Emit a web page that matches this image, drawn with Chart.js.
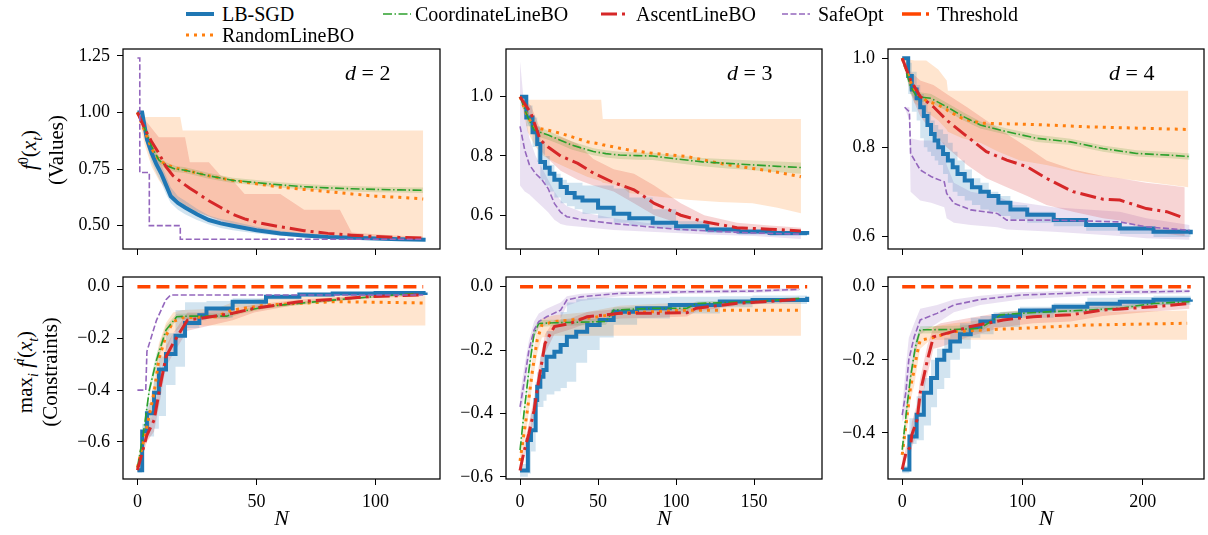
<!DOCTYPE html>
<html>
<head>
<meta charset="utf-8">
<script src="https://cdn.jsdelivr.net/npm/chart.js@4.4.1/dist/chart.umd.min.js"></script>
<style>
  body { margin: 0; background: #fff; width: 1208px; height: 535px; position: relative; overflow: hidden; font-family: 'Liberation Serif', 'DejaVu Serif', serif; color: #000; }
  canvas { position: absolute; }
  .ylab { position: absolute; white-space: nowrap; font-size: 21px; transform: translate(-50%, -50%) rotate(-90deg); }
  .dlab { position: absolute; white-space: nowrap; font-size: 22px; transform: translate(0, -50%); }
  .leg { position: absolute; white-space: nowrap; font-size: 20px; transform: translate(0, -50%); }
</style>
</head>
<body>
<script>
// ---------- d = 2, objective ----------
const v2SgdN = [0,2,4,6,8,10,12,14,17,20,25,30,35,40,50,60,70,80,90,100,110,121];
const v2Sgd = [1.0,1.0,0.88,0.82,0.77,0.73,0.68,0.63,0.60,0.58,0.55,0.525,0.51,0.50,0.48,0.465,0.457,0.45,0.447,0.443,0.44,0.438];
const v2SgdLo = [1.0,0.98,0.85,0.78,0.73,0.69,0.64,0.60,0.57,0.55,0.525,0.505,0.49,0.48,0.465,0.455,0.448,0.443,0.44,0.437,0.435,0.433];
const v2SgdHi = [1.0,1.0,0.92,0.86,0.81,0.77,0.72,0.67,0.63,0.61,0.575,0.545,0.53,0.52,0.495,0.478,0.467,0.458,0.454,0.45,0.446,0.444];
const v2RandN = [0,3,6,9,12,16,18,19,20,30,40,50,60,70,80,90,100,110,120];
const v2Rand = [1.0,0.92,0.84,0.79,0.77,0.755,0.75,0.748,0.745,0.72,0.70,0.685,0.67,0.66,0.65,0.64,0.63,0.625,0.618];
const v2RandLo = [1.0,0.86,0.76,0.70,0.66,0.62,0.60,0.59,0.58,0.54,0.51,0.49,0.475,0.465,0.455,0.45,0.447,0.445,0.443];
const v2RandHi = [1.0,0.98,0.98,0.98,0.98,0.98,0.98,0.92,0.92,0.92,0.92,0.92,0.92,0.92,0.92,0.92,0.92,0.92,0.92];
const v2CoordN = [0,3,6,9,12,16,20,30,40,50,60,70,80,90,100,110,120];
const v2Coord = [1.0,0.93,0.85,0.79,0.765,0.75,0.745,0.72,0.70,0.69,0.68,0.672,0.667,0.663,0.66,0.658,0.656];
const v2CoordLo = [1.0,0.91,0.83,0.775,0.75,0.737,0.732,0.707,0.688,0.678,0.668,0.66,0.655,0.651,0.648,0.646,0.644];
const v2CoordHi = [1.0,0.95,0.87,0.805,0.78,0.763,0.758,0.733,0.712,0.702,0.692,0.684,0.679,0.675,0.672,0.67,0.668];
const v2AscN = [0,3,6,9,12,15,20,22,25,30,35,40,45,50,60,70,80,85,90,100,110,120];
const v2Asc = [1.0,0.93,0.87,0.82,0.76,0.72,0.68,0.665,0.645,0.61,0.58,0.55,0.53,0.515,0.495,0.478,0.466,0.462,0.458,0.452,0.448,0.445];
const v2AscLo = [1.0,0.90,0.80,0.74,0.68,0.63,0.59,0.58,0.56,0.54,0.52,0.50,0.49,0.48,0.47,0.46,0.452,0.45,0.447,0.443,0.44,0.438];
const v2AscHi = [1.0,0.97,0.93,0.89,0.89,0.89,0.89,0.78,0.78,0.78,0.72,0.70,0.64,0.64,0.64,0.57,0.57,0.57,0.47,0.462,0.456,0.452];
const v2SafeN = [0,1,5,18,120];
const v2Safe = [1.24,0.735,0.50,0.44,0.44];

// ---------- d = 3, objective ----------
const v3SgdN = [0,4,8,11,13,16,19,22,26,30,35,40,50,60,70,85,100,120,140,160,184];
const v3Sgd = [1.0,0.93,0.88,0.84,0.78,0.76,0.74,0.72,0.695,0.675,0.66,0.65,0.625,0.605,0.59,0.575,0.563,0.552,0.545,0.54,0.534];
const v3SgdLo = [1.0,0.90,0.83,0.78,0.72,0.70,0.68,0.66,0.64,0.63,0.62,0.605,0.59,0.575,0.565,0.555,0.548,0.54,0.535,0.53,0.528];
const v3SgdHi = [1.0,0.97,0.93,0.90,0.85,0.80,0.77,0.74,0.72,0.71,0.71,0.70,0.70,0.69,0.66,0.62,0.58,0.56,0.55,0.545,0.54];
const v3RandN = [0,5,10,15,22,30,43,52,53,64,70,85,107,128,149,165,180];
const v3Rand = [1.0,0.93,0.895,0.89,0.882,0.87,0.848,0.84,0.838,0.826,0.82,0.809,0.798,0.775,0.758,0.745,0.73];
const v3RandLo = [1.0,0.88,0.83,0.80,0.78,0.76,0.73,0.715,0.71,0.70,0.675,0.665,0.652,0.645,0.64,0.625,0.607];
const v3RandHi = [1.0,0.99,0.99,0.99,0.99,0.99,0.99,0.99,0.925,0.925,0.925,0.925,0.925,0.925,0.925,0.925,0.925];
const v3CoordN = [0,5,9,13,18,25,33,40,47,55,64,75,85,100,117,133,149,165,180];
const v3Coord = [1.0,0.93,0.888,0.88,0.871,0.855,0.837,0.826,0.815,0.808,0.803,0.801,0.80,0.79,0.78,0.775,0.77,0.765,0.761];
const v3CoordLo = [1.0,0.91,0.87,0.863,0.855,0.84,0.822,0.812,0.802,0.795,0.79,0.787,0.786,0.776,0.765,0.758,0.752,0.745,0.74];
const v3CoordHi = [1.0,0.95,0.905,0.895,0.885,0.868,0.85,0.838,0.826,0.819,0.814,0.812,0.811,0.802,0.793,0.789,0.785,0.781,0.778];
const v3AscN = [0,7,13,18,26,37,47,60,73,86,103,118,139,160,180];
const v3Asc = [1.0,0.944,0.854,0.83,0.80,0.775,0.742,0.71,0.686,0.64,0.60,0.578,0.558,0.553,0.547];
const v3AscLo = [1.0,0.92,0.82,0.79,0.75,0.72,0.70,0.68,0.64,0.60,0.57,0.555,0.545,0.54,0.535];
const v3AscHi = [1.0,0.97,0.89,0.865,0.865,0.84,0.79,0.755,0.74,0.70,0.64,0.60,0.575,0.565,0.558];
const v3SafeN = [0,3,6,10,14,18,22,26,30,40,50,60,80,100,120,150,180];
const v3Safe = [0.90,0.82,0.77,0.74,0.72,0.69,0.64,0.61,0.595,0.585,0.578,0.572,0.562,0.553,0.547,0.54,0.536];
const v3SafeLo = [0.70,0.68,0.67,0.65,0.63,0.61,0.585,0.57,0.565,0.56,0.555,0.55,0.545,0.54,0.535,0.53,0.52];
const v3SafeHi = [1.12,0.95,0.86,0.80,0.76,0.72,0.68,0.65,0.63,0.61,0.60,0.59,0.575,0.565,0.557,0.55,0.545];

// ---------- d = 4, objective ----------
const v4SgdN = [0,5,8,12,15,18,21,24,27,30,34,38,42,46,52,58,65,72,80,90,104,126,153,181,209,240];
const v4Sgd = [1.0,0.96,0.93,0.91,0.89,0.87,0.85,0.83,0.815,0.80,0.785,0.77,0.755,0.74,0.725,0.71,0.70,0.69,0.675,0.66,0.648,0.636,0.625,0.617,0.61,0.604];
const v4SgdLo = [1.0,0.92,0.88,0.86,0.82,0.80,0.79,0.78,0.77,0.76,0.74,0.72,0.70,0.69,0.68,0.67,0.66,0.655,0.645,0.638,0.63,0.622,0.612,0.605,0.598,0.592];
const v4SgdHi = [1.0,0.99,0.97,0.94,0.92,0.90,0.88,0.86,0.85,0.84,0.83,0.81,0.79,0.77,0.75,0.73,0.72,0.70,0.69,0.67,0.655,0.64,0.63,0.622,0.615,0.61];
const v4RandN = [0,10,20,30,37,38,50,65,80,98,120,153,180,209,238];
const v4Rand = [1.0,0.925,0.905,0.895,0.885,0.882,0.865,0.854,0.853,0.852,0.85,0.846,0.844,0.842,0.84];
const v4RandLo = [1.0,0.90,0.88,0.86,0.84,0.835,0.82,0.81,0.79,0.77,0.76,0.74,0.73,0.72,0.71];
const v4RandHi = [1.0,0.995,0.995,0.975,0.95,0.927,0.927,0.927,0.927,0.927,0.927,0.927,0.927,0.927,0.927];
const v4CoordN = [0,7,12,24,37,51,65,87,112,140,167,195,223,239];
const v4Coord = [1.0,0.936,0.914,0.91,0.891,0.869,0.85,0.835,0.82,0.812,0.797,0.786,0.782,0.779];
const v4CoordLo = [1.0,0.92,0.903,0.90,0.882,0.86,0.842,0.828,0.812,0.805,0.79,0.779,0.775,0.772];
const v4CoordHi = [1.0,0.95,0.925,0.92,0.90,0.878,0.858,0.842,0.828,0.819,0.804,0.793,0.789,0.786];
const v4AscN = [0,7,15,26,37,54,70,87,104,120,142,167,181,203,220,235];
const v4Asc = [1.0,0.951,0.914,0.891,0.861,0.824,0.79,0.771,0.756,0.73,0.70,0.683,0.681,0.662,0.655,0.64];
const v4AscLo = [1.0,0.92,0.87,0.83,0.80,0.76,0.73,0.71,0.69,0.67,0.655,0.64,0.635,0.615,0.605,0.60];
const v4AscHi = [1.0,0.97,0.95,0.94,0.92,0.89,0.86,0.83,0.80,0.77,0.75,0.735,0.73,0.72,0.715,0.71];
const v4SafeN = [2,6,7,15,24,35,37,43,57,79,87,126,181,203,239];
const v4Safe = [0.89,0.88,0.786,0.749,0.734,0.722,0.696,0.674,0.659,0.651,0.636,0.636,0.632,0.621,0.613];
const v4SafeLo = [0.89,0.86,0.70,0.68,0.675,0.665,0.64,0.63,0.625,0.62,0.615,0.61,0.60,0.595,0.592];
const v4SafeHi = [0.89,0.89,0.82,0.815,0.815,0.81,0.76,0.72,0.70,0.69,0.68,0.665,0.655,0.64,0.625];

// ---------- d = 2, constraints ----------
const c2SgdN = [0,2,4,7,9,12,16,20,26,29,40,54,68,82,100,121];
const c2Sgd = [-0.71,-0.56,-0.49,-0.41,-0.32,-0.26,-0.19,-0.14,-0.11,-0.084,-0.058,-0.039,-0.03,-0.026,-0.024,-0.022];
const c2SgdLo = [-0.72,-0.60,-0.58,-0.55,-0.50,-0.38,-0.31,-0.16,-0.13,-0.12,-0.08,-0.05,-0.038,-0.032,-0.028,-0.025];
const c2SgdHi = [-0.70,-0.53,-0.45,-0.36,-0.27,-0.18,-0.09,-0.06,-0.06,-0.055,-0.045,-0.032,-0.026,-0.022,-0.02,-0.019];
const c2RandN = [0,4,7,9,12,15,19,33,40,54,82,100,121];
const c2Rand = [-0.70,-0.54,-0.41,-0.28,-0.19,-0.135,-0.12,-0.116,-0.09,-0.071,-0.058,-0.06,-0.063];
const c2RandLo = [-0.71,-0.58,-0.46,-0.34,-0.25,-0.18,-0.15,-0.15,-0.15,-0.15,-0.15,-0.15,-0.15];
const c2RandHi = [-0.69,-0.50,-0.36,-0.22,-0.14,-0.10,-0.09,-0.085,-0.06,-0.045,-0.035,-0.032,-0.03];
const c2CoordN = [0,2.5,5,8,12,16.5,21,37.5,43,54,82,100,117];
const c2Coord = [-0.70,-0.568,-0.40,-0.284,-0.168,-0.116,-0.114,-0.114,-0.097,-0.077,-0.052,-0.038,-0.026];
const c2CoordLo = [-0.71,-0.585,-0.42,-0.31,-0.185,-0.127,-0.124,-0.124,-0.106,-0.084,-0.058,-0.043,-0.03];
const c2CoordHi = [-0.69,-0.55,-0.38,-0.26,-0.15,-0.105,-0.104,-0.104,-0.088,-0.07,-0.046,-0.033,-0.022];
const c2AscN = [0,4,7,9.5,12,15,21,26,40,49,68,82,96,119];
const c2Asc = [-0.71,-0.574,-0.516,-0.387,-0.271,-0.219,-0.129,-0.123,-0.103,-0.084,-0.058,-0.049,-0.039,-0.032];
const c2AscLo = [-0.72,-0.60,-0.56,-0.44,-0.31,-0.26,-0.17,-0.16,-0.13,-0.10,-0.068,-0.056,-0.045,-0.037];
const c2AscHi = [-0.70,-0.55,-0.48,-0.35,-0.23,-0.18,-0.10,-0.10,-0.085,-0.07,-0.05,-0.042,-0.034,-0.028];
const c2SafeN = [0,3.5,4,6,8,10,12,14,120];
const c2Safe = [-0.40,-0.40,-0.25,-0.19,-0.13,-0.09,-0.05,-0.032,-0.032];
const c2ThrN = [0,120];
const c2Thr = [0,0];

// ---------- d = 3, constraints ----------
const c3SgdN = [0,4,5,7,10,11,13,15,17,22,26,30,36,43,51,60,75,96,128,149,184];
const c3Sgd = [-0.58,-0.58,-0.484,-0.453,-0.358,-0.316,-0.284,-0.263,-0.221,-0.205,-0.184,-0.158,-0.142,-0.121,-0.105,-0.079,-0.068,-0.058,-0.047,-0.042,-0.032];
const c3SgdLo = [-0.60,-0.60,-0.59,-0.52,-0.40,-0.38,-0.38,-0.36,-0.34,-0.33,-0.32,-0.30,-0.24,-0.20,-0.16,-0.12,-0.10,-0.085,-0.065,-0.055,-0.045];
const c3SgdHi = [-0.56,-0.54,-0.47,-0.40,-0.30,-0.27,-0.22,-0.18,-0.14,-0.11,-0.08,-0.05,-0.04,-0.035,-0.035,-0.035,-0.035,-0.032,-0.03,-0.028,-0.025];
const c3RandN = [0,4.7,8,11,14,22,43,64,85,107,180];
const c3Rand = [-0.55,-0.39,-0.263,-0.168,-0.121,-0.11,-0.10,-0.084,-0.079,-0.074,-0.074];
const c3RandLo = [-0.57,-0.43,-0.30,-0.21,-0.16,-0.155,-0.155,-0.155,-0.155,-0.155,-0.155];
const c3RandHi = [-0.53,-0.35,-0.22,-0.13,-0.10,-0.09,-0.08,-0.06,-0.055,-0.05,-0.04];
const c3CoordN = [0,2.5,5.7,9,12,22,55,60,85,107,113,149,179];
const c3Coord = [-0.516,-0.40,-0.263,-0.147,-0.116,-0.114,-0.11,-0.074,-0.068,-0.068,-0.053,-0.047,-0.037];
const c3CoordLo = [-0.53,-0.42,-0.29,-0.165,-0.127,-0.124,-0.12,-0.082,-0.075,-0.075,-0.06,-0.053,-0.042];
const c3CoordHi = [-0.50,-0.38,-0.24,-0.13,-0.105,-0.104,-0.10,-0.066,-0.061,-0.061,-0.047,-0.041,-0.032];
const c3AscN = [0,2.5,5.7,9,12,16,22,32,43,64,85,107,113,138,179];
const c3Asc = [-0.58,-0.521,-0.463,-0.39,-0.295,-0.179,-0.126,-0.116,-0.095,-0.084,-0.084,-0.082,-0.068,-0.053,-0.04];
const c3AscLo = [-0.59,-0.54,-0.49,-0.42,-0.33,-0.21,-0.15,-0.135,-0.115,-0.10,-0.098,-0.094,-0.078,-0.06,-0.046];
const c3AscHi = [-0.57,-0.50,-0.43,-0.35,-0.25,-0.15,-0.105,-0.10,-0.08,-0.07,-0.07,-0.07,-0.058,-0.045,-0.034];
const c3SafeN = [0,2.5,5.7,9,12,17,26,30,39,64,107,149,179];
const c3Safe = [-0.379,-0.305,-0.20,-0.137,-0.11,-0.095,-0.074,-0.042,-0.032,-0.021,-0.016,-0.014,-0.008];
const c3SafeLo = [-0.41,-0.35,-0.23,-0.16,-0.13,-0.12,-0.10,-0.06,-0.045,-0.03,-0.022,-0.02,-0.013];
const c3SafeHi = [-0.34,-0.26,-0.17,-0.11,-0.085,-0.07,-0.05,-0.03,-0.022,-0.014,-0.01,-0.008,-0.004];
const c3ThrN = [0,184];
const c3Thr = [0,0];

// ---------- d = 4, constraints ----------
const c4SgdN = [0,6,12,18,24,29,35,40,48,57,65,76,98,126,154,181,209,240];
const c4Sgd = [-0.50,-0.41,-0.35,-0.29,-0.25,-0.20,-0.175,-0.15,-0.13,-0.11,-0.095,-0.08,-0.065,-0.055,-0.047,-0.041,-0.036,-0.035];
const c4SgdLo = [-0.51,-0.43,-0.42,-0.38,-0.33,-0.28,-0.25,-0.20,-0.17,-0.14,-0.13,-0.11,-0.085,-0.07,-0.06,-0.055,-0.05,-0.045];
const c4SgdHi = [-0.49,-0.36,-0.30,-0.25,-0.20,-0.17,-0.14,-0.12,-0.10,-0.085,-0.08,-0.07,-0.055,-0.045,-0.03,-0.028,-0.025,-0.025];
const c4RandN = [0,4,7,10,12.4,15,23.5,43,70,98,153,237];
const c4Rand = [-0.46,-0.355,-0.273,-0.228,-0.182,-0.146,-0.141,-0.123,-0.118,-0.114,-0.105,-0.10];
const c4RandLo = [-0.48,-0.39,-0.31,-0.27,-0.22,-0.17,-0.145,-0.145,-0.145,-0.145,-0.145,-0.145];
const c4RandHi = [-0.44,-0.32,-0.23,-0.19,-0.15,-0.12,-0.11,-0.10,-0.09,-0.08,-0.07,-0.065];
const c4CoordN = [0,4,7,11,15,43,65,82,98,126,154,181,209,239];
const c4Coord = [-0.446,-0.328,-0.246,-0.164,-0.118,-0.117,-0.114,-0.077,-0.073,-0.068,-0.064,-0.059,-0.046,-0.041];
const c4CoordLo = [-0.46,-0.345,-0.265,-0.18,-0.128,-0.127,-0.124,-0.085,-0.08,-0.075,-0.07,-0.066,-0.052,-0.047];
const c4CoordHi = [-0.43,-0.31,-0.23,-0.15,-0.108,-0.107,-0.104,-0.069,-0.066,-0.061,-0.057,-0.052,-0.04,-0.035];
const c4AscN = [0,3,7,8,12.4,15,21,26,32,57,84,109,140,167,209,239];
const c4Asc = [-0.50,-0.456,-0.437,-0.405,-0.364,-0.29,-0.20,-0.137,-0.132,-0.109,-0.091,-0.082,-0.077,-0.064,-0.055,-0.046];
const c4AscLo = [-0.51,-0.47,-0.46,-0.44,-0.40,-0.33,-0.24,-0.17,-0.165,-0.135,-0.11,-0.10,-0.095,-0.08,-0.068,-0.06];
const c4AscHi = [-0.49,-0.44,-0.41,-0.37,-0.32,-0.25,-0.16,-0.11,-0.10,-0.085,-0.07,-0.06,-0.055,-0.045,-0.04,-0.035];
const c4SafeN = [0,3,5.5,10,15,29,43,65,98,154,209,239];
const c4Safe = [-0.351,-0.29,-0.20,-0.137,-0.091,-0.073,-0.05,-0.035,-0.023,-0.016,-0.014,-0.012];
const c4SafeLo = [-0.37,-0.35,-0.28,-0.20,-0.13,-0.10,-0.07,-0.05,-0.035,-0.025,-0.02,-0.018];
const c4SafeHi = [-0.33,-0.22,-0.14,-0.10,-0.06,-0.05,-0.035,-0.025,-0.015,-0.01,-0.008,-0.008];
const c4ThrN = [0,240];
const c4Thr = [0,0];

// tick labels
const xTicks2 = [0, 50, 100];
const xTicks3 = [0, 50, 100, 150];
const xTicks4 = [0, 100, 200];
const yTicksV2 = [0.5, 0.75, 1.0, 1.25];
const yTicksV3 = [0.6, 0.8, 1.0];
const yTicksV4 = [0.6, 0.8, 1.0];
const yTicksC2 = [-0.6, -0.4, -0.2, 0.0];
const yTicksC3 = [-0.6, -0.4, -0.2, 0.0];
const yTicksC4 = [-0.4, -0.2, 0.0];

const names = ['LB-SGD', 'RandomLineBO', 'CoordinateLineBO', 'AscentLineBO', 'SafeOpt', 'Threshold'];

const styles = {
  sgd:   { color: '#1f77b4', band: 'rgba(31,119,180,0.2)',  width: 4,   dash: [],            order: 50 },
  rand:  { color: '#ff7f0e', band: 'rgba(255,127,14,0.2)',  width: 3,   dash: [3, 5],        order: 40 },
  coord: { color: '#2ca02c', band: 'rgba(44,160,44,0.2)',   width: 1.6, dash: [9, 2.5, 1.5, 2.5], order: 30 },
  asc:   { color: '#d62728', band: 'rgba(214,39,40,0.2)',   width: 3,   dash: [16, 5, 3, 5], order: 20 },
  safe:  { color: '#9467bd', band: 'rgba(148,103,189,0.2)', width: 1.6, dash: [6, 2.5],      order: 10 },
  thr:   { color: '#ff4500', band: null,                    width: 3.5, dash: [13, 6],       order: 0 }
};

// layout of the six boxes (plot areas)
const colLeft = [123, 506, 888];
const colWidth = [317, 316, 316];
const rowTop = [49, 277];
const rowHeight = [200, 202];
const xAxisH = [10, 56];
const yAxisW = 60;

const panels = [
  { row: 0, col: 0, x: [-6.05, 127.05], y: [0.397, 1.28], xt: xTicks2, yt: yTicksV2, dec: 2, safeStep: true, sgdStep: false,
    s: { sgd: [v2SgdN, v2Sgd, v2SgdLo, v2SgdHi], rand: [v2RandN, v2Rand, v2RandLo, v2RandHi], coord: [v2CoordN, v2Coord, v2CoordLo, v2CoordHi],
         asc: [v2AscN, v2Asc, v2AscLo, v2AscHi], safe: [v2SafeN, v2Safe] } },
  { row: 0, col: 1, x: [-9, 193.5], y: [0.486, 1.161], xt: xTicks3, yt: yTicksV3, dec: 1, sgdStep: true,
    s: { sgd: [v3SgdN, v3Sgd, v3SgdLo, v3SgdHi], rand: [v3RandN, v3Rand, v3RandLo, v3RandHi], coord: [v3CoordN, v3Coord, v3CoordLo, v3CoordHi],
         asc: [v3AscN, v3Asc, v3AscLo, v3AscHi], safe: [v3SafeN, v3Safe, v3SafeLo, v3SafeHi] } },
  { row: 0, col: 2, x: [-11.8, 251], y: [0.571, 1.021], xt: xTicks4, yt: yTicksV4, dec: 1, sgdStep: true,
    s: { sgd: [v4SgdN, v4Sgd, v4SgdLo, v4SgdHi], rand: [v4RandN, v4Rand, v4RandLo, v4RandHi], coord: [v4CoordN, v4Coord, v4CoordLo, v4CoordHi],
         asc: [v4AscN, v4Asc, v4AscLo, v4AscHi], safe: [v4SafeN, v4Safe, v4SafeLo, v4SafeHi] } },
  { row: 1, col: 0, x: [-6.05, 127.05], y: [-0.744, 0.0375], xt: xTicks2, yt: yTicksC2, dec: 1, sgdStep: true,
    s: { sgd: [c2SgdN, c2Sgd, c2SgdLo, c2SgdHi], rand: [c2RandN, c2Rand, c2RandLo, c2RandHi], coord: [c2CoordN, c2Coord, c2CoordLo, c2CoordHi],
         asc: [c2AscN, c2Asc, c2AscLo, c2AscHi], safe: [c2SafeN, c2Safe], thr: [c2ThrN, c2Thr] } },
  { row: 1, col: 1, x: [-9, 193.5], y: [-0.607, 0.0306], xt: xTicks3, yt: yTicksC3, dec: 1, sgdStep: true,
    s: { sgd: [c3SgdN, c3Sgd, c3SgdLo, c3SgdHi], rand: [c3RandN, c3Rand, c3RandLo, c3RandHi], coord: [c3CoordN, c3Coord, c3CoordLo, c3CoordHi],
         asc: [c3AscN, c3Asc, c3AscLo, c3AscHi], safe: [c3SafeN, c3Safe, c3SafeLo, c3SafeHi], thr: [c3ThrN, c3Thr] } },
  { row: 1, col: 2, x: [-11.8, 251], y: [-0.526, 0.0265], xt: xTicks4, yt: yTicksC4, dec: 1, sgdStep: true,
    s: { sgd: [c4SgdN, c4Sgd, c4SgdLo, c4SgdHi], rand: [c4RandN, c4Rand, c4RandLo, c4RandHi], coord: [c4CoordN, c4Coord, c4CoordLo, c4CoordHi],
         asc: [c4AscN, c4Asc, c4AscLo, c4AscHi], safe: [c4SafeN, c4Safe, c4SafeLo, c4SafeHi], thr: [c4ThrN, c4Thr] } }
];

function pts(xs, ys) {
  return xs.map((x, i) => ({ x: x, y: ys[i] }));
}

function fmt(v, dec) {
  return v.toFixed(dec).replace('-', '\u2212');
}

// box around the plot area, drawn over the lines like matplotlib spines
const frame = {
  id: 'frame',
  afterDatasetsDraw(chart) {
    const a = chart.chartArea, ctx = chart.ctx;
    ctx.save();
    ctx.strokeStyle = '#000';
    ctx.lineWidth = 1.25;
    ctx.strokeRect(a.left, a.top, a.right - a.left, a.bottom - a.top);
    ctx.restore();
  }
};

const serif = "'Liberation Serif', 'DejaVu Serif', serif";
const tickFont = { family: serif, size: 18 };

panels.forEach(p => {
  const ds = [];
  // shaded bands first
  ['sgd', 'rand', 'coord', 'asc', 'safe'].forEach(k => {
    const s = p.s[k];
    if (!s || !s[2]) return;
    const stepped = k === 'sgd' && p.sgdStep;
    ds.push({ data: pts(s[0], s[3]), borderColor: 'transparent', borderWidth: 0, pointRadius: 0, fill: false, stepped: stepped, order: 100 });
    ds.push({ data: pts(s[0], s[2]), borderColor: 'transparent', borderWidth: 0, pointRadius: 0, fill: '-1',
              backgroundColor: styles[k].band, stepped: stepped, order: 100 });
  });
  // lines
  ['sgd', 'rand', 'coord', 'asc', 'safe', 'thr'].forEach((k, i) => {
    const s = p.s[k];
    if (!s) return;
    const st = styles[k];
    ds.push({
      label: names[i], data: pts(s[0], s[1]),
      borderColor: st.color, borderWidth: st.width, borderDash: st.dash,
      pointRadius: 0, fill: false, tension: 0, order: st.order,
      stepped: (k === 'sgd' && p.sgdStep) || (k === 'safe' && p.safeStep)
    });
  });

  const bottom = p.row === 1;
  const xh = xAxisH[p.row];
  const cv = document.createElement('canvas');
  const w = yAxisW + colWidth[p.col] + 4;
  const h = 4 + rowHeight[p.row] + xh;
  cv.width = w; cv.height = h;
  cv.style.left = (colLeft[p.col] - yAxisW) + 'px';
  cv.style.top = (rowTop[p.row] - 4) + 'px';
  cv.style.width = w + 'px'; cv.style.height = h + 'px';
  document.body.appendChild(cv);

  new Chart(cv, {
    type: 'line',
    data: { datasets: ds },
    plugins: [frame],
    options: {
      responsive: false, animation: false, events: [], devicePixelRatio: 1,
      layout: { padding: { top: 4, right: 4, left: 0, bottom: 0 } },
      plugins: { legend: { display: false }, tooltip: { enabled: false } },
      scales: {
        x: {
          type: 'linear', min: p.x[0], max: p.x[1],
          afterBuildTicks: sc => { sc.ticks = p.xt.map(v => ({ value: v })); },
          afterFit: sc => { sc.height = xh; sc.paddingLeft = 0; sc.paddingRight = 0; },
          grid: { drawOnChartArea: false, drawTicks: true, tickLength: 6, color: '#000', lineWidth: 1 },
          border: { display: false },
          ticks: { display: bottom, font: tickFont, color: '#000', padding: 6, maxRotation: 0, autoSkip: false,
                   callback: v => fmt(v, 0) },
          title: { display: bottom, text: 'N', color: '#000', padding: { top: 0, bottom: 3 },
                   font: { family: serif, size: 22, style: 'italic' } }
        },
        y: {
          type: 'linear', min: p.y[0], max: p.y[1],
          afterBuildTicks: sc => { sc.ticks = p.yt.map(v => ({ value: v })); },
          afterFit: sc => { sc.width = yAxisW; sc.paddingTop = 0; sc.paddingBottom = 0; },
          grid: { drawOnChartArea: false, drawTicks: true, tickLength: 6, color: '#000', lineWidth: 1 },
          border: { display: false },
          ticks: { font: tickFont, color: '#000', padding: 7, autoSkip: false, callback: v => fmt(v, p.dec) }
        }
      }
    }
  });
});

// y axis labels and d annotations
function addDiv(cls, html, left, top) {
  const d = document.createElement('div');
  d.className = cls;
  d.innerHTML = html;
  d.style.left = left + 'px';
  d.style.top = top + 'px';
  document.body.appendChild(d);
  return d;
}
addDiv('ylab', '<i>f</i><sup style="font-size:14px">0</sup>(<i>x</i><sub style="font-size:14px"><i>t</i></sub>)', 31, 150);
addDiv('ylab', '(Values)', 56, 150);
addDiv('ylab', 'max<sub style="font-size:14px"><i>i</i></sub> <i>f</i><sup style="font-size:14px"><i>i</i></sup>(<i>x</i><sub style="font-size:14px"><i>t</i></sub>)', 27, 372);
addDiv('ylab', '(Constraints)', 50, 372);
addDiv('dlab', '<i>d</i> = 2', 345, 73);
addDiv('dlab', '<i>d</i> = 3', 727, 73);
addDiv('dlab', '<i>d</i> = 4', 1109, 73);

// shared legend at the top
const legendItems = [
  { key: 'sgd',   name: names[0], x: 186, tx: 222, y: 14 },
  { key: 'rand',  name: names[1], x: 186, tx: 222, y: 35 },
  { key: 'coord', name: names[2], x: 383, tx: 415, y: 14 },
  { key: 'asc',   name: names[3], x: 601, tx: 636, y: 14 },
  { key: 'safe',  name: names[4], x: 782, tx: 818, y: 14 },
  { key: 'thr',   name: names[5], x: 902, tx: 937, y: 14 }
];
legendItems.forEach(it => {
  const st = styles[it.key];
  const svg = document.createElementNS('http://www.w3.org/2000/svg', 'svg');
  svg.setAttribute('width', 28); svg.setAttribute('height', 10);
  svg.style.position = 'absolute';
  svg.style.left = it.x + 'px';
  svg.style.top = (it.y - 5) + 'px';
  const ln = document.createElementNS('http://www.w3.org/2000/svg', 'line');
  ln.setAttribute('x1', 0); ln.setAttribute('x2', 28); ln.setAttribute('y1', 5); ln.setAttribute('y2', 5);
  ln.setAttribute('stroke', st.color);
  ln.setAttribute('stroke-width', st.width);
  if (it.key === 'thr') ln.setAttribute('stroke-dasharray', '19 5 3 5');
  else if (st.dash.length) ln.setAttribute('stroke-dasharray', st.dash.join(' '));
  svg.appendChild(ln);
  document.body.appendChild(svg);
  addDiv('leg', it.name, it.tx, it.y);
});
</script>
</body>
</html>
